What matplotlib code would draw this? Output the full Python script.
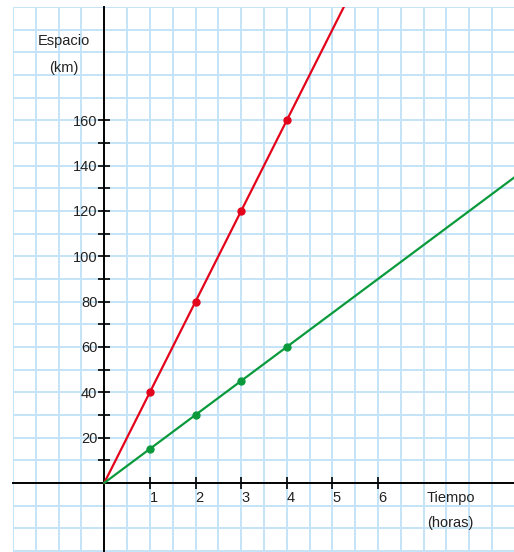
import numpy as np
import matplotlib.pyplot as plt
from matplotlib.transforms import ScaledTranslation

plt.rcParams['font.family'] = ['Liberation Sans', 'DejaVu Sans']

# datos
horas = [0, 1, 2, 3, 4]
espacio_rojo = [0, 40, 80, 120, 160]
espacio_verde = [0, 15, 30, 45, 60]
vel_rojo = 40
vel_verde = 15
x_ticks = [1, 2, 3, 4, 5, 6]
y_ticks = [10, 20, 30, 40, 50, 60, 70, 80, 90, 100, 110, 120, 130, 140, 150, 160]
y_labels = [str(v) if v % 20 == 0 else '' for v in y_ticks]

rojo = '#e3051b'
verde = '#0a9a3c'
cuadricula = '#c4e4f7'
texto = '#222222'

fig = plt.figure(figsize=(5.14, 5.52), dpi=100)
ax = fig.add_axes([13 / 514, 0, 501 / 514, 545 / 552])

xmin, xmax = -2, 8.98
ymin, ymax = -30.5, 210
ax.set_xlim(xmin, xmax)
ax.set_ylim(ymin, ymax)

# cuadricula cada media hora / 10 km
for gx in np.arange(-2, 9.01, 0.5):
    ax.axvline(gx, color=cuadricula, linewidth=1.4, zorder=0)
for gy in np.arange(-30, 210.1, 10):
    ax.axhline(gy, color=cuadricula, linewidth=1.4, zorder=0)

for s in ['top', 'right']:
    ax.spines[s].set_visible(False)
ax.spines['left'].set_position(('data', 0))
ax.spines['bottom'].set_position(('data', 0))
for s in ['left', 'bottom']:
    ax.spines[s].set_linewidth(1.4)
    ax.spines[s].set_zorder(2)

ax.set_xticks(x_ticks)
ax.set_xticklabels([str(v) for v in x_ticks])
ax.set_yticks(y_ticks)
ax.set_yticklabels(y_labels)
ax.tick_params(which='major', direction='inout', length=8, width=1.2,
               labelsize=10.5, color='black', labelcolor=texto)
ax.tick_params(axis='x', pad=2)
ax.tick_params(axis='y', pad=1)
for lab in ax.get_xticklabels():
    lab.set_transform(lab.get_transform() + ScaledTranslation(4 / 100, 0, fig.dpi_scale_trans))

# rectas completas
xs = np.array([0, xmax])
ax.plot(xs, vel_rojo * xs, color=rojo, linewidth=1.6, zorder=3)
ax.plot(xs, vel_verde * xs, color=verde, linewidth=1.6, zorder=3)
ax.plot(horas[1:], espacio_rojo[1:], 'o', color=rojo, markersize=5, zorder=4)
ax.plot(horas[1:], espacio_verde[1:], 'o', color=verde, markersize=5, zorder=4)

ax.text(-0.88, 194.8, 'Espacio', fontsize=10.5, color=texto, ha='center', va='center')
ax.text(-0.88, 183.3, '(km)', fontsize=10.5, color=texto, ha='center', va='center')
ax.text(7.59, -6.6, 'Tiempo', fontsize=10.5, color=texto, ha='center', va='center')
ax.text(7.59, -17.8, '(horas)', fontsize=10.5, color=texto, ha='center', va='center')

fig.savefig('out.png', dpi=100)
